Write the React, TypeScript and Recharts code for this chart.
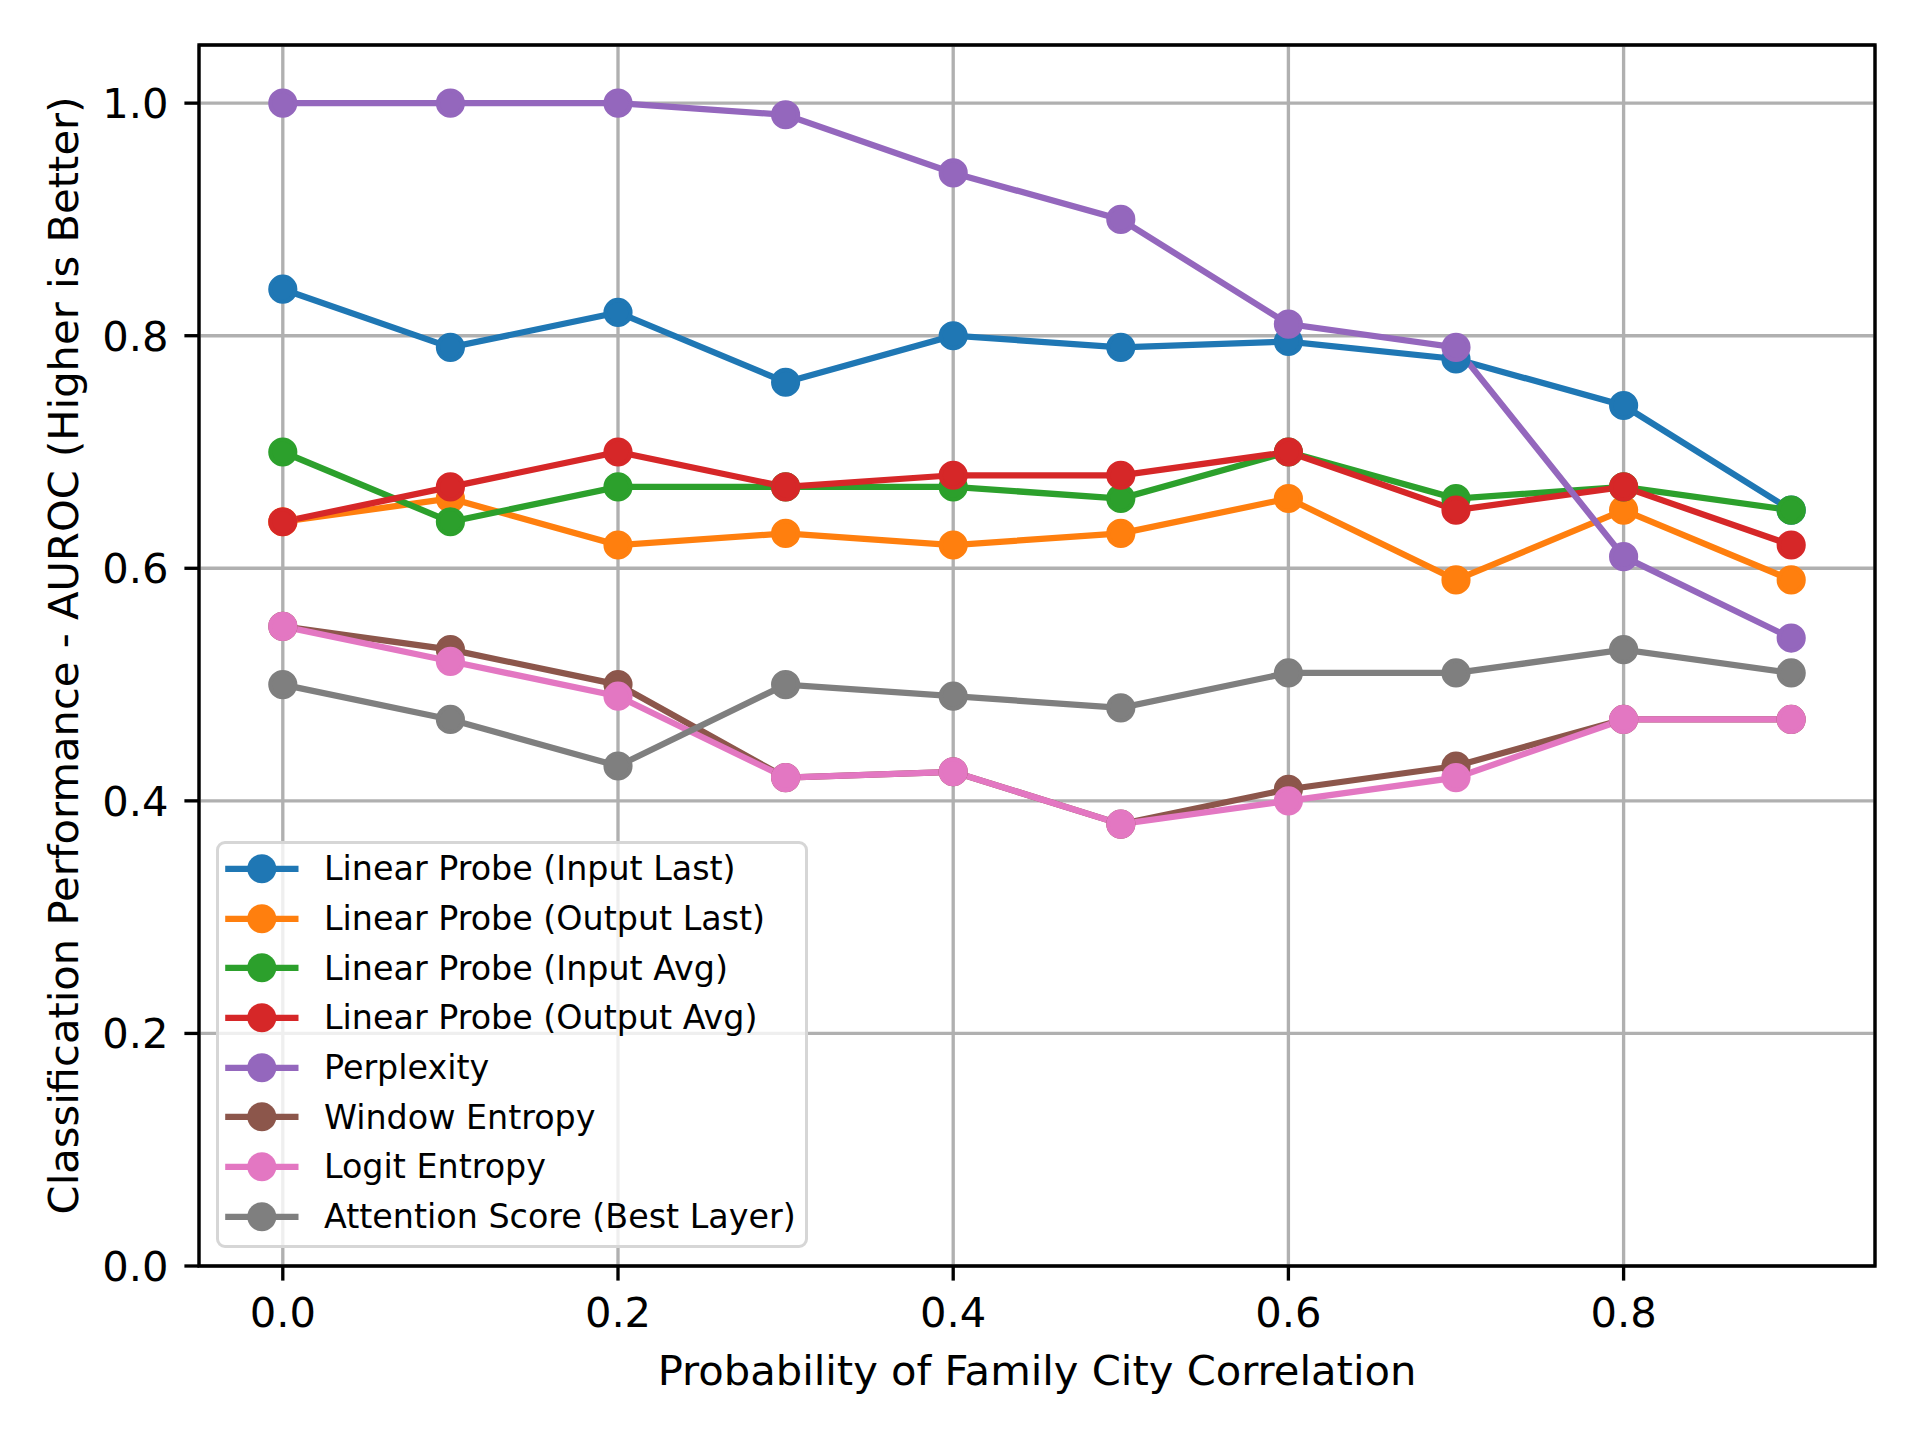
import {
  CartesianGrid,
  Legend,
  Line,
  LineChart,
  ReferenceArea,
  XAxis,
  YAxis,
} from "recharts";

// probability of family-city correlation
const xValues = [0, 0.1, 0.2, 0.3, 0.4, 0.5, 0.6, 0.7, 0.8, 0.9];

const linearProbeInputLast = [0.84, 0.79, 0.82, 0.76, 0.8, 0.79, 0.795, 0.78, 0.74, 0.65];
const linearProbeOutputLast = [0.64, 0.66, 0.62, 0.63, 0.62, 0.63, 0.66, 0.59, 0.65, 0.59];
const linearProbeInputAvg = [0.7, 0.64, 0.67, 0.67, 0.67, 0.66, 0.7, 0.66, 0.67, 0.65];
const linearProbeOutputAvg = [0.64, 0.67, 0.7, 0.67, 0.68, 0.68, 0.7, 0.65, 0.67, 0.62];
const perplexity = [1.0, 1.0, 1.0, 0.99, 0.94, 0.9, 0.81, 0.79, 0.61, 0.54];
const windowEntropy = [0.55, 0.53, 0.5, 0.42, 0.425, 0.38, 0.41, 0.43, 0.47, 0.47];
const logitEntropy = [0.55, 0.52, 0.49, 0.42, 0.425, 0.38, 0.4, 0.42, 0.47, 0.47];
const attentionScore = [0.5, 0.47, 0.43, 0.5, 0.49, 0.48, 0.51, 0.51, 0.53, 0.51];

const xTicks = [0, 0.2, 0.4, 0.6, 0.8];
const yTicks = [0, 0.2, 0.4, 0.6, 0.8, 1.0];

const series = [
  { key: "lpInLast", name: "Linear Probe (Input Last)", color: "#1f77b4", values: linearProbeInputLast },
  { key: "lpOutLast", name: "Linear Probe (Output Last)", color: "#ff7f0e", values: linearProbeOutputLast },
  { key: "lpInAvg", name: "Linear Probe (Input Avg)", color: "#2ca02c", values: linearProbeInputAvg },
  { key: "lpOutAvg", name: "Linear Probe (Output Avg)", color: "#d62728", values: linearProbeOutputAvg },
  { key: "perplexity", name: "Perplexity", color: "#9467bd", values: perplexity },
  { key: "windowEntropy", name: "Window Entropy", color: "#8c564b", values: windowEntropy },
  { key: "logitEntropy", name: "Logit Entropy", color: "#e377c2", values: logitEntropy },
  { key: "attention", name: "Attention Score (Best Layer)", color: "#7f7f7f", values: attentionScore },
];

const data = xValues.map((x, i) => {
  const row: Record<string, number> = { x };
  series.forEach((s) => {
    row[s.key] = s.values[i];
  });
  return row;
});

const FONT = "'DejaVu Sans', sans-serif";
const TICK_PX = 41.67;
const LEGEND_PX = 33.33;
const LW = 6.25;
const THIN = 3.33;

// legend keeps the plotting order (recharts would sort it by name)
function LegendBox() {
  return (
    <div
      style={{
        boxSizing: "border-box",
        width: 592,
        height: 407,
        border: `${THIN}px solid #d6d6d6`,
        borderRadius: 9,
        background: "rgba(255,255,255,0.8)",
        fontFamily: FONT,
        fontSize: LEGEND_PX,
        color: "#000",
      }}
    >
      {series.map((s) => (
        <div
          key={s.key}
          style={{ display: "flex", alignItems: "center", height: 49.7 }}
        >
          <svg width={80} height={49.7} style={{ flex: "none" }}>
            <line x1={6.2} x2={79.5} y1={24.85} y2={24.85} stroke={s.color} strokeWidth={LW} />
            <circle cx={42.8} cy={24.85} r={14.5} fill={s.color} />
          </svg>
          <span style={{ marginLeft: 25, whiteSpace: "nowrap" }}>{s.name}</span>
        </div>
      ))}
    </div>
  );
}

function YLabel({ viewBox }: { viewBox?: { y: number; height: number } }) {
  if (!viewBox) return null;
  const cy = viewBox.y + viewBox.height / 2;
  return (
    <text
      x={78}
      y={cy}
      transform={`rotate(-90 78 ${cy})`}
      textAnchor="middle"
      fontFamily={FONT}
      fontSize={TICK_PX}
      fill="#000"
    >
      Classification Performance - AUROC (Higher is Better)
    </text>
  );
}

export default function App() {
  return (
    <div style={{ position: "absolute", left: 0, top: 0, width: 1920, height: 1440, background: "#fff" }}>
      <LineChart
        width={1920}
        height={1440}
        data={data}
        margin={{ top: 45, right: 45, bottom: 0, left: 0 }}
      >
        <CartesianGrid stroke="#b0b0b0" strokeWidth={THIN} />
        <XAxis
          dataKey="x"
          type="number"
          domain={[-0.05, 0.95]}
          ticks={xTicks}
          allowDataOverflow
          height={174}
          axisLine={false}
          tickLine={{ stroke: "#000", strokeWidth: THIN }}
          tickSize={14.6}
          tickMargin={17}
          tick={{ fill: "#000", fontSize: TICK_PX, fontFamily: FONT }}
          tickFormatter={(v: number) => v.toFixed(1)}
          label={{
            value: "Probability of Family City Correlation",
            position: "insideBottom",
            offset: 55,
            fill: "#000",
            fontSize: TICK_PX,
            fontFamily: FONT,
          }}
        />
        <YAxis
          type="number"
          domain={[0, 1.05]}
          ticks={yTicks}
          allowDataOverflow
          width={199}
          axisLine={false}
          tickLine={{ stroke: "#000", strokeWidth: THIN }}
          tickSize={14.6}
          tickMargin={16}
          tick={{ fill: "#000", fontSize: TICK_PX, fontFamily: FONT }}
          tickFormatter={(v: number) => v.toFixed(1)}
          label={<YLabel />}
        />
        {series.map((s) => (
          <Line
            key={s.key}
            type="linear"
            dataKey={s.key}
            name={s.name}
            stroke={s.color}
            strokeWidth={LW}
            dot={{ r: 12.5, fill: s.color, stroke: s.color, strokeWidth: 4.17 }}
            activeDot={false}
            isAnimationActive={false}
          />
        ))}
        <ReferenceArea
          x1={-0.05}
          x2={0.95}
          y1={0}
          y2={1.05}
          fill="none"
          fillOpacity={0}
          stroke="#000"
          strokeWidth={THIN}
          ifOverflow="visible"
        />
        <Legend
          layout="vertical"
          align="center"
          verticalAlign="middle"
          content={() => <LegendBox />}
          wrapperStyle={{ left: 216, top: 841, width: 592, height: 407, margin: 0 }}
        />
      </LineChart>
    </div>
  );
}
